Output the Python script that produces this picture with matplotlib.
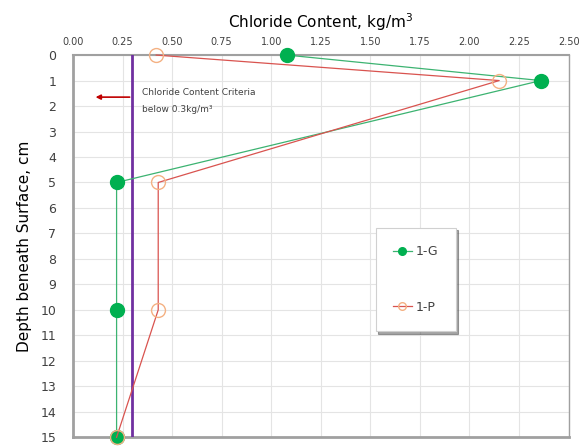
import numpy as np
import matplotlib.pyplot as plt

depth = [0, 1, 5, 10, 15]
g_vals = [1.08, 2.36, 0.22, 0.22, 0.22]
p_vals = [0.42, 2.15, 0.43, 0.43, 0.22]
criteria = 0.3
xticks = np.arange(0, 2.51, 0.25)
yticks = np.arange(0, 16, 1)

fig = plt.figure(figsize=(5.81, 4.46), dpi=100)
ax = fig.add_axes([0.1256, 0.0195, 0.853, 0.857])

ax.plot(g_vals, depth, color='#3cb371', lw=0.9, marker='o', ms=10,
        mfc='#00b050', mec='#00b050', label='1-G', clip_on=False, zorder=4)
ax.plot(p_vals, depth, color='#d9534f', lw=0.9, marker='o', ms=10,
        mfc='none', mec='#f4b183', mew=1.0, label='1-P', clip_on=False, zorder=4)
ax.axvline(criteria, color='#7030a0', lw=2, zorder=3)

ax.annotate('', xy=(0.1, 1.65), xytext=(criteria, 1.65),
            arrowprops=dict(arrowstyle='-|>', color='#c00000', lw=1.2, mutation_scale=7))
ax.text(0.35, 1.45, 'Chloride Content Criteria', fontsize=6.5, color='#404040', va='center')
ax.text(0.35, 2.15, 'below 0.3kg/m\u00b3', fontsize=6.5, color='#404040', va='center')

ax.set_xlim(0, 2.5)
ax.set_ylim(15, 0)
ax.set_xticks(xticks)
ax.set_xticklabels(['%.2f' % v for v in xticks])
ax.set_yticks(yticks)
ax.xaxis.tick_top()
ax.xaxis.set_label_position('top')
ax.tick_params(axis='x', length=0, labelsize=7, colors='#404040', pad=6)
ax.tick_params(axis='y', length=0, labelsize=9, colors='#404040', pad=12)
ax.grid(True, color='#e4e4e4', lw=0.8)
ax.set_axisbelow(True)
for s in ax.spines.values():
    s.set_color('#a0a0a0')
ax.spines['left'].set_linewidth(2)
ax.spines['bottom'].set_linewidth(2)
ax.spines['top'].set_linewidth(1.5)
ax.spines['right'].set_linewidth(1)

ax.set_xlabel('Chloride Content, kg/m$^3$', fontsize=11, labelpad=6)
ax.set_ylabel('Depth beneath Surface, cm', fontsize=11, labelpad=6)

leg = ax.legend(loc='upper left', bbox_to_anchor=(0.598, 0.565), frameon=True, shadow=True,
                fancybox=False, labelspacing=3.4, borderpad=1.4, markerscale=0.55,
                handlelength=1.5, handletextpad=0.3, fontsize=9, edgecolor='#d0d0d0')
leg.get_frame().set_linewidth(0.8)
for t in leg.get_texts():
    t.set_color('#404040')

fig.savefig('out.png', dpi=100)
